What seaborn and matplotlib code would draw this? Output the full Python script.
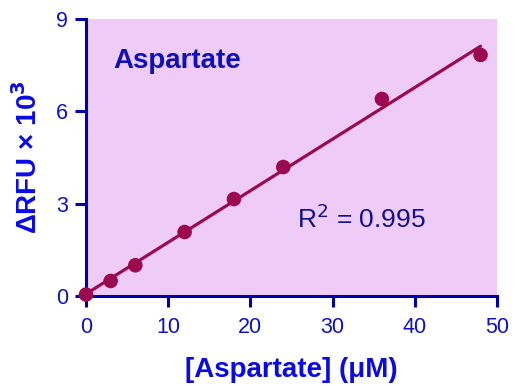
import numpy as np
import pandas as pd
import matplotlib
matplotlib.use("Agg")
import matplotlib.pyplot as plt
import seaborn as sns

concentration = [0, 3, 6, 12, 18, 24, 36, 48]
rfu = [0.05, 0.49, 1.0, 2.08, 3.15, 4.19, 6.4, 7.83]
x_ticks = [0, 10, 20, 30, 40, 50]
y_ticks = [0, 3, 6, 9]
r2_text = "0.995"

sns.set_theme(style="ticks")
plt.rcParams['font.family'] = ['Liberation Sans', 'DejaVu Sans']

df = pd.DataFrame({"conc": concentration, "rfu": rfu})
slope, intercept = np.polyfit(df["conc"], df["rfu"], 1)
fit_x = [0, max(concentration)]
fit_df = pd.DataFrame({"conc": fit_x, "rfu": [intercept + slope * v for v in fit_x]})

fig = plt.figure(figsize=(5.15, 3.86), dpi=100)
ax = fig.add_axes([0.167, 0.233, 0.798, 0.718])
ax.set_facecolor("#EECCF7")

mark = "#9B0A4E"
sns.lineplot(data=fit_df, x="conc", y="rfu", ax=ax, color=mark, lw=2.3, zorder=2)
sns.scatterplot(data=df, x="conc", y="rfu", ax=ax, color=mark, s=110,
                edgecolor="none", zorder=3, clip_on=False)

ax.set_xlim(0, 50)
ax.set_ylim(0, 9)
ax.set_xticks(x_ticks)
ax.set_yticks(y_ticks)

axc = "#0000AA"
for s in ["left", "bottom"]:
    ax.spines[s].set_color(axc)
    ax.spines[s].set_linewidth(2.2)
for s in ["top", "right"]:
    ax.spines[s].set_visible(False)
ax.tick_params(axis="both", colors=axc, width=2.2, length=8, labelsize=15.5,
               labelcolor="#1010C8", pad=5)
ax.tick_params(axis="x", pad=7)

ax.set_xlabel("[Aspartate] (μM)", fontsize=20, fontweight="bold", color="#0A0AE6", labelpad=14)
ax.set_ylabel("ΔRFU × 10$^{\\mathbf{3}}$", fontsize=20, fontweight="bold", color="#0A0AE6", labelpad=9)

ax.text(27.0 / 410, (296 - 68) / 277, "Aspartate", transform=ax.transAxes, fontsize=20,
        fontweight="bold", color="#1010B8")
ax.text((297 - 86) / 411, (296 - 228) / 277, "R$^2$ = " + r2_text, transform=ax.transAxes,
        fontsize=19, color="#101090")

fig.savefig("out.png", dpi=100)
